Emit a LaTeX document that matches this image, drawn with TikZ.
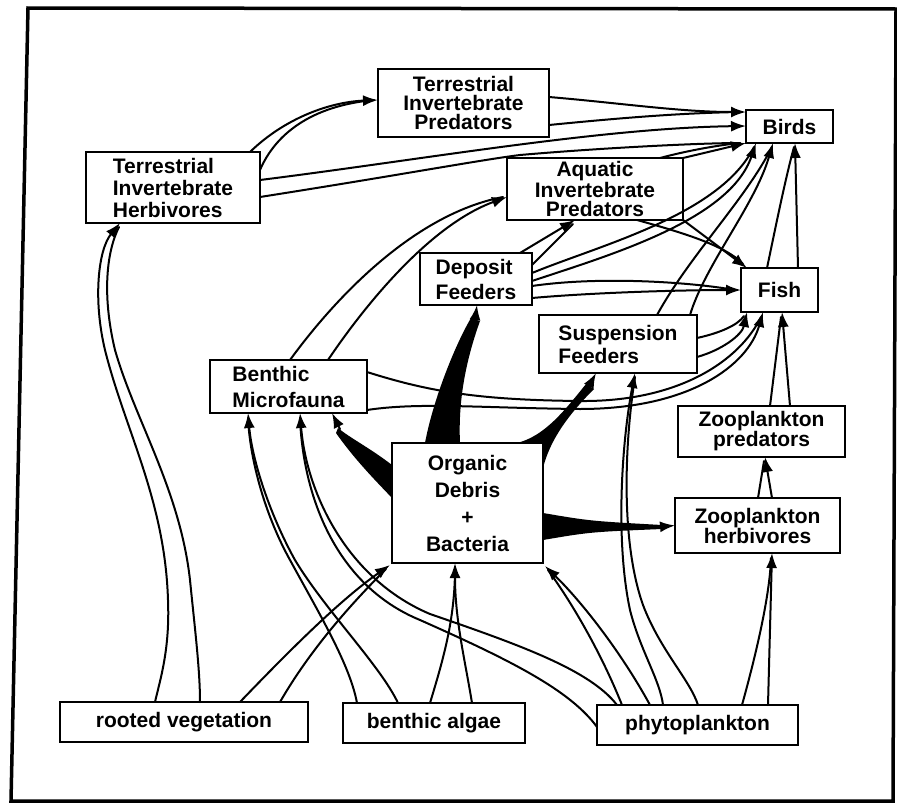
\documentclass[tikz,border=0pt]{standalone}
\usepackage{fontspec}
\setmainfont{Liberation Sans}
\usetikzlibrary{arrows.meta,calc}
\begin{document}
\begin{tikzpicture}[x=1pt,y=-1pt,
  box/.style={draw, line width=2.3pt, fill=white, rectangle, inner sep=0pt, outer sep=0pt, align=center, font=\fontsize{21}{#1}\selectfont\bfseries},
  box/.default=22,
  flow/.style={line width=2pt, line cap=round},
  arr/.style={-{Latex[length=15pt,width=11pt]}},
  wedge/.style={fill=black}]
\useasboundingbox (0,0) rectangle (897,806);
% frame
\draw[line width=3.5pt] (28,8) -- (896,9) -- (893,801) -- (11,801) -- cycle;

% boxes
\node[box=19, minimum width=171, minimum height=68] (tip) at (463.5,103) {Terrestrial\\Invertebrate\\Predators};
\node[box=22, align=left, minimum width=174, minimum height=71] (tih) at (173,187.5) {Terrestrial\\Invertebrate\\Herbivores};
\node[box, minimum width=87, minimum height=33] (birds) at (789.5,126.5) {Birds};
\node[box=19, minimum width=176, minimum height=62] (aip) at (595,189) {Aquatic\\Invertebrate\\Predators};
\node[box=25, align=left, minimum width=112, minimum height=52] (df) at (476,279) {Deposit\\Feeders};
\node[box, minimum width=77, minimum height=44] (fish) at (779.5,290) {Fish};
\node[box=23, align=left, minimum width=158, minimum height=58] (sf) at (618,344) {Suspension\\Feeders};
\node[box=26, align=left, minimum width=157, minimum height=53] (bm) at (288.5,386.5) {Benthic\\Microfauna};
\node[box=20, minimum width=167, minimum height=51] (zp) at (761.5,431.5) {Zooplankton\\predators};
\node[box=27, minimum width=151, minimum height=120] (od) at (467.5,503) {Organic\\Debris\\+\\Bacteria};
\node[box=20, minimum width=165, minimum height=55] (zh) at (757.5,525.5) {Zooplankton\\herbivores};
\node[box, minimum width=248, minimum height=40] (rv) at (184,722) {rooted vegetation};
\node[box, minimum width=182, minimum height=40] (ba) at (434,723) {benthic algae};
\node[box, minimum width=201, minimum height=40] (pp) at (697.5,725) {phytoplankton};

% TIH -> TIP
\draw[flow,arr] ($(tih.north west)+(164,0)$) .. controls (285,118) and (330,102) .. ($(tip.north west)+(0,31)$);
\draw[flow] ($(tih.north west)+(174,18)$) .. controls (275,135) and (310,106) .. ($(tip.north west)+(-4,31)$);
% TIP -> Birds
\draw[flow,arr] ($(tip.north west)+(171,28)$) .. controls (620,103) and (680,112) .. ($(birds.north west)+(0,2)$);
\draw[flow] ($(tip.north west)+(171,56)$) .. controls (620,118) and (680,113) .. ($(birds.north west)+(-6,2)$);
% TIH -> Birds
\draw[flow,arr] ($(tih.north west)+(174,28)$) .. controls (420,160) and (600,128) .. ($(birds.north west)+(0,16)$);
\draw[flow] ($(tih.north west)+(174,45)$) .. controls (400,175) and (480,160) .. (520,155) .. controls (600,148) and (700,143) .. ($(birds.north west)+(-6,33)$);
% AIP -> Birds
\draw[flow] ($(aip.north west)+(153,0)$) .. controls (690,150) and (720,145) .. ($(birds.north west)+(-6,33)$);
\draw[flow,arr] (aip.north east) -- ($(birds.north west)+(0,33)$);
% BM -> AIP
\draw[flow] ($(bm.north west)+(80,0)$) .. controls (330,305) and (410,215) .. ($(aip.north west)+(-4,39)$);
\draw[flow,arr] ($(bm.north west)+(118,0)$) .. controls (365,305) and (430,225) .. ($(aip.north west)+(0,39)$);
% DF -> AIP
\draw[flow,arr] ($(df.north west)+(100,0)$) -- ($(aip.north west)+(68,62)$);
\draw[flow] ($(df.north east)+(0,12)$) -- ($(aip.north west)+(66,66)$);
% DF -> Birds
\draw[flow] ($(df.north east)+(0,20)$) .. controls (600,245) and (720,215) .. ($(birds.north west)+(8,37)$);
\draw[flow,arr] ($(df.north east)+(0,28)$) .. controls (610,255) and (730,220) .. ($(birds.north west)+(10,33)$);
% DF -> Fish
\draw[flow] ($(df.north east)+(0,33)$) .. controls (600,276) and (690,282) .. ($(fish.north west)+(-6,22)$);
\draw[flow,arr] ($(df.north east)+(0,45)$) .. controls (600,292) and (690,290) .. ($(fish.north west)+(0,22)$);
% AIP -> Fish
\draw[flow] ($(aip.north west)+(130,62)$) .. controls (680,232) and (725,245) .. ($(fish.north west)+(2,-4)$);
\draw[flow,arr] (aip.south east) -- ($(fish.north west)+(6,0)$);
% SF -> Birds
\draw[flow] ($(sf.north west)+(118,0)$) .. controls (690,255) and (745,200) .. ($(birds.north west)+(26,37)$);
\draw[flow,arr] ($(sf.north west)+(151,0)$) .. controls (705,265) and (755,205) .. ($(birds.north west)+(27,33)$);
% SF -> Fish
\draw[flow] ($(sf.north east)+(0,23)$) .. controls (720,333) and (738,325) .. ($(fish.south west)+(3,4)$);
\draw[flow,arr] ($(sf.north east)+(0,42)$) .. controls (722,350) and (742,335) .. ($(fish.south west)+(6,0)$);
% BM -> Fish
\draw[flow] ($(bm.north east)+(0,12)$) .. controls (430,392) and (480,400) .. (580,401) .. controls (680,402) and (740,360) .. ($(fish.south west)+(20,5)$);
\draw[flow,arr] ($(bm.north east)+(0,50)$) .. controls (420,402) and (480,408) .. (580,409) .. controls (690,409) and (748,365) .. ($(fish.south west)+(22,0)$);
% Fish -> Birds
\draw[flow] ($(fish.north west)+(26,0)$) .. controls (775,230) and (785,180) .. ($(birds.north west)+(48,37)$);
\draw[flow,arr] ($(fish.north west)+(57,0)$) -- ($(birds.north west)+(49,33)$);
% ZP -> Fish
\draw[flow] ($(zp.north west)+(92,0)$) -- ($(fish.south west)+(40,5)$);
\draw[flow,arr] ($(zp.north west)+(112,0)$) -- ($(fish.south west)+(41,0)$);
% ZH -> ZP
\draw[flow] ($(zh.north west)+(83,0)$) -- ($(zp.south west)+(86,4)$);
\draw[flow,arr] ($(zh.north west)+(97,0)$) -- ($(zp.south west)+(87,0)$);
% PP -> ZH
\draw[flow] ($(pp.north west)+(145,0)$) .. controls (760,640) and (770,590) .. ($(zh.south west)+(96,5)$);
\draw[flow,arr] ($(pp.north west)+(171,0)$) -- ($(zh.south west)+(97,0)$);

% RV -> TIH
\draw[flow,arr] ($(rv.north west)+(95,0)$) .. controls (160,680) and (170,650) .. (168,600) .. controls (165,500) and (125,430) .. (105,350) .. controls (93,300) and (98,250) .. ($(tih.south west)+(34,0)$);
\draw[flow] ($(rv.north west)+(140,0)$) .. controls (200,670) and (195,630) .. (190,580) .. controls (180,490) and (135,420) .. (115,350) .. controls (103,300) and (105,255) .. ($(tih.south west)+(33,4)$);
% RV -> OD
\draw[flow,arr] ($(rv.north west)+(180,0)$) .. controls (290,650) and (340,600) .. ($(od.south west)+(-2,2)$);
\draw[flow] ($(rv.north west)+(220,0)$) .. controls (310,650) and (350,605) .. ($(od.south west)+(-6,6)$);
% BA -> BM
\draw[flow] ($(ba.north west)+(14,0)$) .. controls (350,665) and (320,615) .. (290,560) .. controls (265,515) and (250,460) .. ($(bm.south west)+(38,5)$);
\draw[flow,arr] ($(ba.north west)+(55,0)$) .. controls (380,665) and (325,610) .. (295,560) .. controls (270,515) and (252,460) .. ($(bm.south west)+(38,0)$);
% PP -> BM
\draw[flow] ($(pp.north west)+(0,22)$) .. controls (570,690) and (510,660) .. (420,620) .. controls (335,585) and (303,495) .. ($(bm.south west)+(90,5)$);
\draw[flow,arr] ($(pp.north west)+(20,0)$) .. controls (590,670) and (520,645) .. (430,614) .. controls (345,578) and (306,490) .. ($(bm.south west)+(90,0)$);
% BA -> OD
\draw[flow] ($(ba.north west)+(87,0)$) .. controls (443,660) and (455,620) .. ($(od.south west)+(63,5)$);
\draw[flow,arr] ($(ba.north west)+(129,0)$) .. controls (465,660) and (455,620) .. ($(od.south west)+(63,0)$);
% PP -> OD
\draw[flow] ($(pp.north west)+(25,0)$) .. controls (600,650) and (570,600) .. ($(od.south east)+(5,7)$);
\draw[flow,arr] ($(pp.north west)+(53,0)$) .. controls (620,650) and (580,600) .. ($(od.south east)+(2,3)$);
% PP -> SF
\draw[flow,arr] ($(pp.north west)+(66,0)$) .. controls (660,680) and (640,650) .. (630,610) .. controls (615,540) and (622,440) .. ($(sf.south west)+(96,0)$);
\draw[flow] ($(pp.north west)+(101,0)$) .. controls (690,680) and (660,650) .. (643,605) .. controls (620,540) and (625,440) .. ($(sf.south west)+(96,4)$);

% OD -> ZH (wedge)
\fill[wedge] ($(od.north east)+(0,70)$) .. controls (590,521) .. (662,525) -- (662,529) .. controls (590,532) .. ($(od.north east)+(0,97)$) -- cycle;
\draw[flow,arr] (658,527) -- (zh.west);
% OD -> SF (wedge)
\fill[wedge] ($(od.north east)+(-26,0)$) .. controls (545,436) and (565,410) .. (586,384) -- (594,389) .. controls (568,415) and (550,440) .. ($(od.north east)+(0,25)$) -- (od.north east) -- cycle;
\draw[flow,arr] (589,386) -- ($(sf.south west)+(57,0)$);
% OD -> DF (wedge)
\fill[wedge] ($(od.north west)+(33,0)$) .. controls (433,400) and (455,345) .. (471,318) -- (480,321) .. controls (466,360) and (458,400) .. ($(od.north west)+(68,0)$) -- cycle;
\draw[flow,arr] (475,320) -- ($(df.south west)+(57,0)$);
% OD -> BM (wedge)
\fill[wedge] ($(od.north west)+(0,22)$) .. controls (370,448) and (350,438) .. (338,428) -- (336,433) .. controls (355,460) and (375,480) .. ($(od.north west)+(0,55)$) -- cycle;
\draw[flow,arr] (340,429) -- ($(bm.south west)+(122,0)$);
\end{tikzpicture}
\end{document}
